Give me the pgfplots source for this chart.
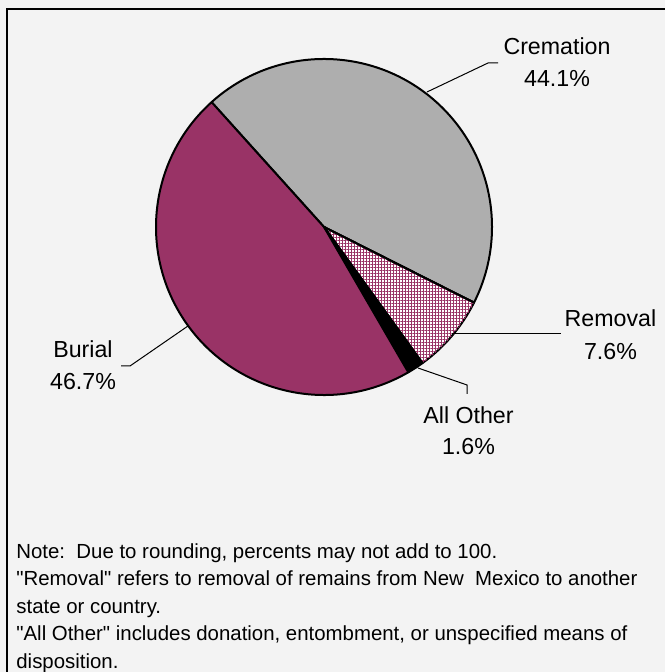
\documentclass[border=0pt]{standalone}
\usepackage{pgfplots}
\pgfplotsset{compat=1.18}
\usepackage{pgfplotstable}
\usepackage{fontspec}
\setmainfont{Liberation Sans}[Ligatures=TeXOff]
\usetikzlibrary{patterns.meta}
\definecolor{burial}{RGB}{153,51,102}
\definecolor{crem}{RGB}{174,174,174}
\definecolor{bg}{RGB}{243,243,243}

\pgfplotstableread{
name pct
Cremation 44.1
Removal 7.6
AllOther 1.6
Burial 46.7
}\piedata

\begin{document}%
\begin{tikzpicture}
% cumulative angles (clockwise from 132 degrees)
\pgfmathsetmacro\aA{132}
\pgfplotstablegetelem{0}{pct}\of\piedata \pgfmathsetmacro\aB{\aA-3.6*\pgfplotsretval}
\pgfplotstablegetelem{1}{pct}\of\piedata \pgfmathsetmacro\aC{\aB-3.6*\pgfplotsretval}
\pgfplotstablegetelem{2}{pct}\of\piedata \pgfmathsetmacro\aD{\aC-3.6*\pgfplotsretval}
\pgfplotstablegetelem{3}{pct}\of\piedata \pgfmathsetmacro\aE{\aD-3.6*\pgfplotsretval}
\begin{axis}[width=332.5pt,height=336pt,scale only axis,
  xmin=0,xmax=665,ymin=0,ymax=672,hide axis,clip=false]
\fill[bg] (axis cs:0,0) rectangle (axis cs:665,672);
\draw[line width=1pt] (axis cs:7,0) -- (axis cs:7,663) -- (axis cs:665,663);
% slices
\filldraw[fill=crem,draw=black,line width=1pt,line join=round]
  (axis cs:324,445) -- ++(\aA:84pt) arc[start angle=\aA,end angle=\aB,radius=84pt] -- cycle;
\filldraw[fill=white,draw=black,line width=1pt,line join=round,
  postaction={pattern={Hatch[angle=0,distance=1.5pt,line width=0.45pt]},pattern color=burial}]
  (axis cs:324,445) -- ++(\aB:84pt) arc[start angle=\aB,end angle=\aC,radius=84pt] -- cycle;
\filldraw[fill=black,draw=black,line width=1pt,line join=round]
  (axis cs:324,445) -- ++(\aC:84pt) arc[start angle=\aC,end angle=\aD,radius=84pt] -- cycle;
\filldraw[fill=burial,draw=black,line width=1pt,line join=round]
  (axis cs:324,445) -- ++(\aD:84pt) arc[start angle=\aD,end angle=\aE,radius=84pt] -- cycle;
\draw[black,line width=1pt] (axis cs:324,445) -- ++(\aB:84pt);
\draw[black,line width=1pt] (axis cs:324,445) -- ++(\aC:84pt);
% leader lines
\draw[line width=0.5pt] (axis cs:427,580) -- (axis cs:488,609) -- (axis cs:498,609);
\draw[line width=0.5pt] (axis cs:452,338) -- (axis cs:561,338);
\draw[line width=0.5pt] (axis cs:188,346) -- (axis cs:130,306) -- (axis cs:121,306);
\draw[line width=0.5pt] (axis cs:418,304) -- (axis cs:467,287) -- (axis cs:467,278);
% labels
\tikzset{lab/.style={anchor=base,inner sep=0pt,font=\fontsize{11.6}{14}\selectfont}}
\node[lab] at (axis cs:557,617.7) {Cremation};
\node[lab] at (axis cs:557,585.3) {44.1\%};
\node[lab] at (axis cs:610.5,345.3) {Removal};
\node[lab] at (axis cs:610.5,312.7) {7.6\%};
\node[lab] at (axis cs:83,314.7) {Burial};
\node[lab] at (axis cs:83,282.7) {46.7\%};
\node[lab] at (axis cs:468.5,248.7) {All Other};
\node[lab] at (axis cs:468.5,217) {1.6\%};
% notes
\tikzset{note/.style={anchor=base west,inner sep=0pt,font=\fontsize{10.2}{12}\selectfont}}
\node[note] at (axis cs:16,113.5) {Note:\ \ Due to rounding, percents may not add to 100.};
\node[note] at (axis cs:16,86) {"Removal" refers to removal of remains from New\ \ Mexico to another};
\node[note] at (axis cs:16,58.5) {state or country.};
\node[note] at (axis cs:16,31) {"All Other" includes donation, entombment, or unspecified means of};
\node[note] at (axis cs:16,3.5) {disposition.};
\end{axis}
\pgfresetboundingbox
\path (current axis.south west) rectangle (current axis.north east);
\end{tikzpicture}%
\end{document}
